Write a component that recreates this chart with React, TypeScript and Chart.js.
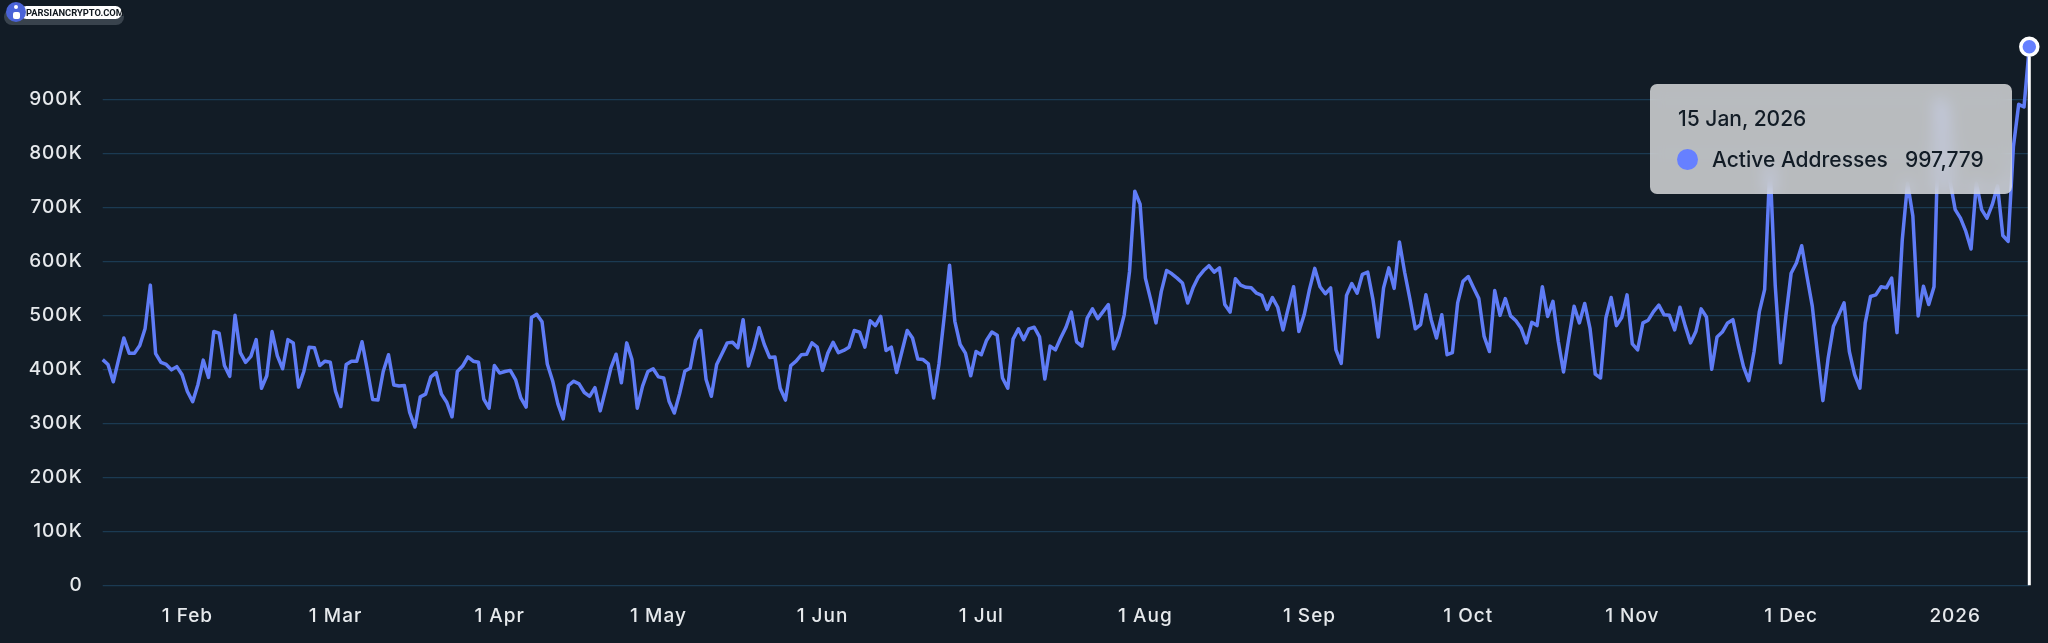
import { useEffect, useRef } from "react";
import { Chart, registerables } from "chart.js";

Chart.register(...registerables);

// daily active addresses in thousands, 16 Jan 2025 -> 15 Jan 2026
const activeAddressesK = [
  418, 409, 377, 418, 458, 430, 430, 444, 475, 556,
  429, 413, 409, 399, 405, 390, 359, 340, 372, 417,
  385, 470, 467, 407, 387, 500, 431, 413, 424, 455,
  365, 388, 470, 425, 401, 455, 449, 367, 396, 441,
  440, 407, 415, 413, 359, 331, 409, 415, 415, 451,
  399, 344, 343, 396, 427, 371, 369, 370, 320, 293,
  349, 354, 386, 394, 354, 339, 312, 396, 406, 423,
  415, 413, 345, 328, 407, 393, 396, 398, 381, 347,
  330, 496, 502, 488, 410, 379, 336, 308, 370, 378,
  373, 357, 350, 366, 323, 362, 402, 428, 375, 449,
  418, 328, 369, 396, 401, 386, 384, 341, 319, 355,
  397, 402, 454, 472, 381, 350, 409, 429, 449, 450,
  440, 492, 406, 438, 477, 446, 422, 423, 365, 343,
  407, 415, 427, 428, 449, 441, 398, 430, 450, 431,
  435, 441, 472, 469, 441, 490, 481, 498, 435, 441,
  394, 433, 472, 458, 419, 418, 410, 347, 410, 498,
  593, 489, 446, 430, 388, 433, 427, 454, 469, 463,
  384, 365, 456, 475, 455, 475, 478, 460, 382, 443,
  436, 458, 478, 506, 451, 443, 495, 512, 494, 507,
  520, 438, 462, 501, 581, 730, 706, 569, 529, 486,
  544, 583, 577, 569, 560, 523, 551, 571, 583, 592,
  580, 588, 520, 506, 568, 556, 552, 551, 541, 537,
  511, 533, 515, 473, 514, 553, 470, 501, 548, 587,
  553, 540, 551, 436, 411, 537, 559, 541, 576, 580,
  529, 460, 551, 588, 550, 636, 579, 529, 475, 483,
  538, 492, 458, 501, 427, 431, 523, 563, 572, 551,
  531, 461, 433, 546, 500, 531, 499, 490, 476, 449,
  487, 481, 553, 498, 526, 452, 395, 458, 517, 486,
  522, 476, 391, 384, 495, 533, 481, 496, 538, 447,
  436, 486, 491, 507, 519, 501, 500, 473, 515, 480,
  449, 470, 512, 497, 400, 460, 469, 486, 492, 446,
  405, 379, 433, 507, 548, 780, 555, 412, 498, 578,
  597, 629, 572, 517, 427, 342, 421, 480, 501, 523,
  433, 390, 365, 486, 535, 538, 553, 551, 569, 468,
  640, 745, 684, 499, 554, 520, 553, 900, 880, 750,
  696, 680, 656, 623, 745, 696, 680, 705, 740, 648,
  637, 813, 891, 886, 997.779,
];

const tickDates = [
  "2025-02-01", "2025-03-01", "2025-04-01", "2025-05-01", "2025-06-01", "2025-07-01",
  "2025-08-01", "2025-09-01", "2025-10-01", "2025-11-01", "2025-12-01", "2026-01-01",
];
const tickLabels = ["1 Feb", "1 Mar", "1 Apr", "1 May", "1 Jun", "1 Jul", "1 Aug", "1 Sep", "1 Oct", "1 Nov", "1 Dec", "2026"];
const yTicks = [0, 100000, 200000, 300000, 400000, 500000, 600000, 700000, 800000, 900000];

const values = activeAddressesK.map((v) => v * 1000);
const lastIndex = values.length - 1;
const days = values.map((_, i) => new Date(Date.UTC(2025, 0, 16 + i)).toISOString().slice(0, 10));

const BG = "#121c26";
const LINE = "#5f7cf6";
const DOT = "#6680ff";
const GRID = "#1b3a52";
const TEXT = "#e6e9ec";
const FONT = "Inter, sans-serif";

const cursorPlugin = {
  id: "cursor",
  beforeDraw(chart: any) {
    chart.ctx.letterSpacing = "1px";
  },
  afterDatasetsDraw(chart: any) {
    const { ctx, scales } = chart;
    const x = scales.x.getPixelForValue(lastIndex);
    ctx.save();
    ctx.strokeStyle = "#ffffff";
    ctx.lineWidth = 3;
    ctx.beginPath();
    ctx.moveTo(x, scales.y.getPixelForValue(values[lastIndex]) + 10);
    ctx.lineTo(x, scales.y.getPixelForValue(0));
    ctx.stroke();
    ctx.restore();
  },
};

function Watermark() {
  return (
    <div style={{ position: "absolute", left: 0, top: 0, width: 130, height: 30 }}>
      <div style={{ position: "absolute", left: 4, top: 9, width: 120, height: 16, borderRadius: 8, background: "#39434d" }} />
      <div style={{ position: "absolute", left: 20, top: 6, width: 102, height: 13, borderRadius: 7, background: "#ffffff" }} />
      <div style={{ position: "absolute", left: 6, top: 2, width: 20, height: 20, borderRadius: 10, background: "#4a63d8" }}>
        <div style={{ position: "absolute", left: 7, top: 10, width: 7, height: 7, borderRadius: 2, background: "#ffffff" }} />
        <div style={{ position: "absolute", left: 8, top: 3, width: 4, height: 4, borderRadius: 2, background: "#ffffff" }} />
      </div>
      <div
        style={{
          position: "absolute",
          left: 26,
          top: 6,
          fontFamily: "Roboto, sans-serif",
          fontSize: 9.4,
          lineHeight: "13px",
          fontWeight: 700,
          color: "#10181f",
          whiteSpace: "nowrap",
        }}
      >
        PARSIANCRYPTO.COM
      </div>
    </div>
  );
}

function HoverBox() {
  const label = { position: "absolute", fontFamily: FONT, fontSize: 21, lineHeight: "24px", fontWeight: 500, color: BG, whiteSpace: "nowrap" } as const;
  return (
    <div
      style={{
        position: "absolute",
        left: 1650,
        top: 84,
        width: 362,
        height: 110,
        borderRadius: 7,
        background: "rgba(255,255,255,0.7)",
        backdropFilter: "blur(8px)",
      }}
    >
      <div style={{ ...label, left: 28, top: 23 }}>15 Jan, 2026</div>
      <div style={{ position: "absolute", left: 27, top: 65, width: 21, height: 21, borderRadius: "50%", background: DOT }} />
      <div style={{ ...label, left: 62, top: 64 }}>Active Addresses</div>
      <div style={{ ...label, left: 255, top: 64 }}>997,779</div>
    </div>
  );
}

export default function App() {
  const canvasRef = useRef<HTMLCanvasElement>(null);

  useEffect(() => {
    document.body.style.margin = "0";
    document.body.style.background = BG;
    if (!canvasRef.current) return;

    const tickFont = { family: FONT, size: 19, weight: 500 };
    const chart = new Chart(canvasRef.current, {
      type: "line",
      data: {
        labels: days,
        datasets: [
          {
            label: "Active Addresses",
            data: values,
            borderColor: LINE,
            borderWidth: 3.5,
            borderJoinStyle: "round",
            tension: 0,
            clip: false,
            pointRadius: (c: any) => (c.dataIndex === lastIndex ? 8.5 : 0),
            pointBackgroundColor: DOT,
            pointBorderColor: "#ffffff",
            pointBorderWidth: 3.5,
          },
        ],
      },
      options: {
        responsive: false,
        devicePixelRatio: 1,
        animation: false,
        layout: { padding: { left: 0, right: 18.7, top: 46.7, bottom: 0 } },
        plugins: { legend: { display: false }, tooltip: { enabled: false } },
        scales: {
          x: {
            type: "category",
            grid: { display: false },
            border: { display: false },
            afterFit: (axis: any) => {
              axis.height = 57.8;
            },
            ticks: {
              autoSkip: false,
              maxRotation: 0,
              padding: 12,
              color: TEXT,
              font: tickFont,
              callback: (_: any, index: number) => {
                const at = tickDates.indexOf(days[index]);
                return at >= 0 ? tickLabels[at] : null;
              },
            },
          },
          y: {
            min: 0,
            max: values[lastIndex],
            grid: { color: GRID, lineWidth: 1.3, tickLength: 0 },
            border: { display: false },
            afterFit: (axis: any) => {
              axis.width = 102.7;
            },
            afterBuildTicks: (axis: any) => {
              axis.ticks = yTicks.map((value) => ({ value }));
            },
            ticks: {
              padding: 20,
              color: TEXT,
              font: tickFont,
              callback: (v: any) => (v === 0 ? "0" : `${v / 1000}K`),
            },
          },
        },
      } as any,
      plugins: [cursorPlugin],
    });

    return () => {
      chart.destroy();
    };
  }, []);

  return (
    <div style={{ position: "relative", width: 2048, height: 643, background: BG, overflow: "hidden" }}>
      <canvas ref={canvasRef} width={2048} height={643} style={{ display: "block" }} />
      <Watermark />
      <HoverBox />
    </div>
  );
}
